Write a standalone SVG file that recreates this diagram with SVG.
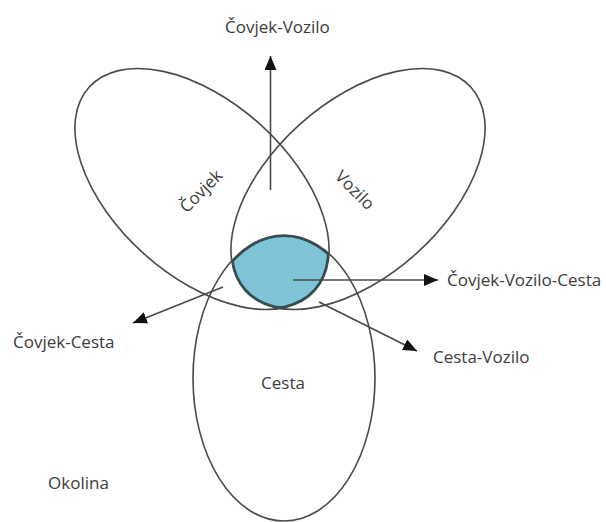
<svg xmlns="http://www.w3.org/2000/svg" width="606" height="522" viewBox="0 0 606 522">
<style>
.ol{fill:none;stroke:#4a4a4a;stroke-width:1.6}
.ln{fill:none;stroke:#4a4a4a;stroke-width:1.6}
.t{font-family:"Open Sans",sans-serif;font-size:17px;fill:#3c3c3c}
.edge{fill:none;stroke:#234e5c;stroke-width:4}
</style>
<defs>
<marker id="ah" markerWidth="14" markerHeight="12" refX="14" refY="6" orient="auto" markerUnits="userSpaceOnUse">
<path d="M0,0 L14,6 L0,12 Z" fill="#111"/>
</marker>
<clipPath id="cL"><ellipse cx="202" cy="189" rx="152" ry="87" transform="rotate(42 202 189)"/></clipPath>
<clipPath id="cR" clip-path="url(#cL)"><ellipse cx="358" cy="189" rx="152" ry="87" transform="rotate(-42 358 189)"/></clipPath>
<clipPath id="cAll" clip-path="url(#cR)"><ellipse cx="284" cy="378" rx="91" ry="143"/></clipPath>
</defs>
<rect width="606" height="522" fill="#fff"/>
<g id="blue">
<rect x="0" y="0" width="606" height="522" fill="#7ec4d6" clip-path="url(#cAll)"/>
<g clip-path="url(#cAll)">
<ellipse class="edge" cx="202" cy="189" rx="152" ry="87" transform="rotate(42 202 189)"/>
<ellipse class="edge" cx="358" cy="189" rx="152" ry="87" transform="rotate(-42 358 189)"/>
<ellipse class="edge" cx="284" cy="378" rx="91" ry="143"/>
</g>
</g>
<g id="covjek">
<ellipse class="ol" cx="202" cy="189" rx="152" ry="87" transform="rotate(42 202 189)"/>
<text class="t" x="201" y="197" text-anchor="middle" transform="rotate(-45 201 191)">Čovjek</text>
</g>
<g id="vozilo">
<ellipse class="ol" cx="358" cy="189" rx="152" ry="87" transform="rotate(-42 358 189)"/>
<text class="t" x="355" y="196" text-anchor="middle" transform="rotate(45 355 190)">Vozilo</text>
</g>
<g id="cesta">
<ellipse class="ol" cx="284" cy="378" rx="91" ry="143"/>
<text class="t" x="283" y="389" text-anchor="middle">Cesta</text>
</g>
<g id="okolina">
<text class="t" x="48" y="489">Okolina</text>
</g>
<g id="connectors">
<line class="ln" x1="270.5" y1="190" x2="270.5" y2="56" marker-end="url(#ah)"/>
<line class="ln" x1="293" y1="280" x2="438" y2="280" marker-end="url(#ah)"/>
<line class="ln" x1="223" y1="287" x2="133" y2="323" marker-end="url(#ah)"/>
<line class="ln" x1="319" y1="302" x2="417" y2="351" marker-end="url(#ah)"/>
</g>
<g id="labels">
<text class="t" x="225" y="33">Čovjek-Vozilo</text>
<text class="t" x="447" y="286">Čovjek-Vozilo-Cesta</text>
<text class="t" x="13" y="348">Čovjek-Cesta</text>
<text class="t" x="433" y="363">Cesta-Vozilo</text>
</g>
</svg>
